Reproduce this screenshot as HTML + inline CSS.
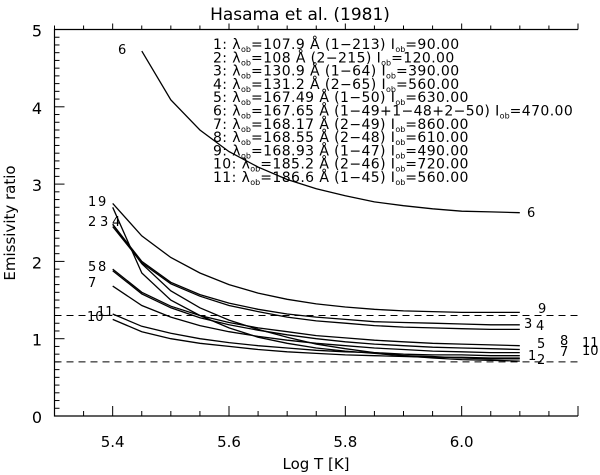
<!DOCTYPE html>
<html><head><meta charset="utf-8"><style>
body{margin:0;background:#fff;}
svg{display:block;font-family:"DejaVu Sans","Liberation Sans",sans-serif;}
</style></head><body>
<svg id="chart" width="600" height="475" viewBox="0 0 600 475"></svg>
<script>
const temps=[5.4,5.45,5.5,5.55,5.6,5.65,5.7,5.75,5.8,5.85,5.9,5.95,6.0,6.05,6.1];
const s1=[2.70,1.85,1.50,1.30,1.14,1.02,0.94,0.88,0.84,0.81,0.78,0.77,0.75,0.74,0.74];
const s2=[2.48,1.97,1.62,1.40,1.24,1.12,1.02,0.93,0.87,0.82,0.78,0.75,0.73,0.72,0.71];
const s3=[2.48,2.00,1.73,1.57,1.46,1.38,1.32,1.28,1.25,1.22,1.21,1.20,1.19,1.18,1.18];
const s4=[2.45,1.98,1.71,1.55,1.43,1.35,1.28,1.23,1.20,1.17,1.15,1.14,1.13,1.12,1.12];
const s5=[1.90,1.60,1.42,1.30,1.21,1.14,1.09,1.04,1.01,0.98,0.96,0.94,0.93,0.92,0.91];
const s6=[null,4.72,4.09,3.70,3.42,3.22,3.06,2.94,2.85,2.77,2.72,2.68,2.65,2.64,2.63];
const s7=[1.68,1.43,1.28,1.17,1.09,1.03,0.98,0.94,0.91,0.88,0.86,0.84,0.83,0.82,0.82];
const s8=[1.88,1.58,1.40,1.27,1.18,1.11,1.05,1.00,0.96,0.93,0.91,0.89,0.88,0.87,0.86];
const s9=[2.75,2.33,2.05,1.85,1.70,1.59,1.51,1.45,1.41,1.38,1.36,1.35,1.34,1.34,1.34];
const s10=[1.25,1.09,1.00,0.94,0.90,0.86,0.83,0.81,0.79,0.78,0.77,0.76,0.76,0.75,0.75];
const s11=[1.32,1.16,1.07,1.00,0.95,0.91,0.88,0.85,0.83,0.82,0.80,0.79,0.79,0.78,0.78];
const xTickLabels=["5.4","5.6","5.8","6.0"];
const yTickLabels=["0","1","2","3","4","5"];
const refLines=[1.3,0.7];
const legendLines=[
 ["1: ","107.9 Å (1−213) ","90.00"],["2: ","108 Å (2−215) ","120.00"],["3: ","130.9 Å (1−64) ","390.00"],
 ["4: ","131.2 Å (2−65) ","560.00"],["5: ","167.49 Å (1−50) ","630.00"],["6: ","167.65 Å (1−49+1−48+2−50) ","470.00"],
 ["7: ","168.17 Å (2−49) ","860.00"],["8: ","168.55 Å (2−48) ","610.00"],["9: ","168.93 Å (1−47) ","490.00"],
 ["10: ","185.2 Å (2−46) ","720.00"],["11: ","186.6 Å (1−45) ","560.00"]];

const NS="http://www.w3.org/2000/svg";
const svg=document.getElementById('chart');
const X0=54.5,X1=578,Y0=416,Y1=29.5;
const xs=v=>X0+(v-5.3)/(6.2-5.3)*(X1-X0);
const ys=v=>Y0-(v/5)*(Y0-Y1);
function mk(tag,attrs,parent){const e=document.createElementNS(NS,tag);for(const k in attrs)e.setAttribute(k,attrs[k]);(parent||svg).appendChild(e);return e;}
function txt(x,y,s,size,anchor,parent){const t=mk('text',{x:x,y:y,'font-size':size,'text-anchor':anchor||'start',fill:'#000'},parent);t.textContent=s;return t;}

const ax=mk('path',{d:`M${X1},${Y1}H${X0}V${Y0}H${X1}`,fill:'none',stroke:'#000','stroke-width':1.2});


for(let i=0;i<=18;i++){const v=5.3+i*0.05;const x=xs(v);const L=(i%4===2)?10:5;
 mk('line',{x1:x,x2:x,y1:Y0,y2:Y0-L,stroke:'#000'});mk('line',{x1:x,x2:x,y1:Y1,y2:Y1-((i%4===2)?6:4),stroke:'#000'});}
xTickLabels.forEach(s=>{const t=txt(xs(parseFloat(s)),447,s,15,'middle');
 
 });
for(let i=0;i<=50;i++){const v=i*0.1;const y=ys(v);const L=(i%10===0)?10:5;
 mk('line',{x1:X0,x2:X0+L,y1:y,y2:y,stroke:'#000'});}
yTickLabels.forEach(s=>{const t=txt(42,ys(parseFloat(s))+7,s,16,'end');
 
 });
refLines.forEach(v=>{const l=mk('line',{x1:X0,x2:X1,y1:ys(v),y2:ys(v),stroke:'#000','stroke-dasharray':'7,5','stroke-width':1});
 
 });
const series=[s1,s2,s3,s4,s5,s6,s7,s8,s9,s10,s11];
series.forEach((s,k)=>{let d='';s.forEach((v,i)=>{if(v==null)return;d+=(d?'L':'M')+xs(temps[i]).toFixed(1)+','+ys(v).toFixed(1);});
 const p=mk('path',{d:d,fill:'none',stroke:'#000','stroke-width':1.3});
 
 });
const lab=[["6",118,54],["1",88,206],["9",98,206],["2",88,226],["3",100,226],["4",112,226],["5",88,271],["8",98,271],["7",88,287],["11",97,316],["10",87,321],
 ["6",527,217],["9",538,313],["3",524,328],["4",536,330],["5",537,348],["8",560,345],["11",582,347],["1",528,360],["2",537,364],["7",560,356],["10",582,355]];
lab.forEach(a=>{const t=txt(a[1],a[2],a[0],13,'start');
 
 });
const ti=txt(300,20,"Hasama et al. (1981)",17,'middle');


const xt=txt(316,469,"Log T [K]",15,'middle');


const yt=txt(0,0,"Emissivity ratio",15,'middle');
yt.setAttribute('transform','translate(15,223) rotate(-90)');


const lg=mk('g',{});


legendLines.forEach((l,i)=>{const y=49+i*13.3;const t=mk('text',{x:213,y:y,'font-size':14,'letter-spacing':0.4,fill:'#000'},lg);
 
 
 const a=mk('tspan',{},t);a.textContent=l[0]+'λ';
 const b=mk('tspan',{'font-size':8,dy:3,'letter-spacing':0},t);b.textContent='ob';
 const c=mk('tspan',{dy:-3},t);c.textContent='='+l[1]+'I';
 const d=mk('tspan',{'font-size':8,dy:3,'letter-spacing':0},t);d.textContent='ob';
 const e=mk('tspan',{dy:-3},t);e.textContent='='+l[2];});
</script>
</body></html>
